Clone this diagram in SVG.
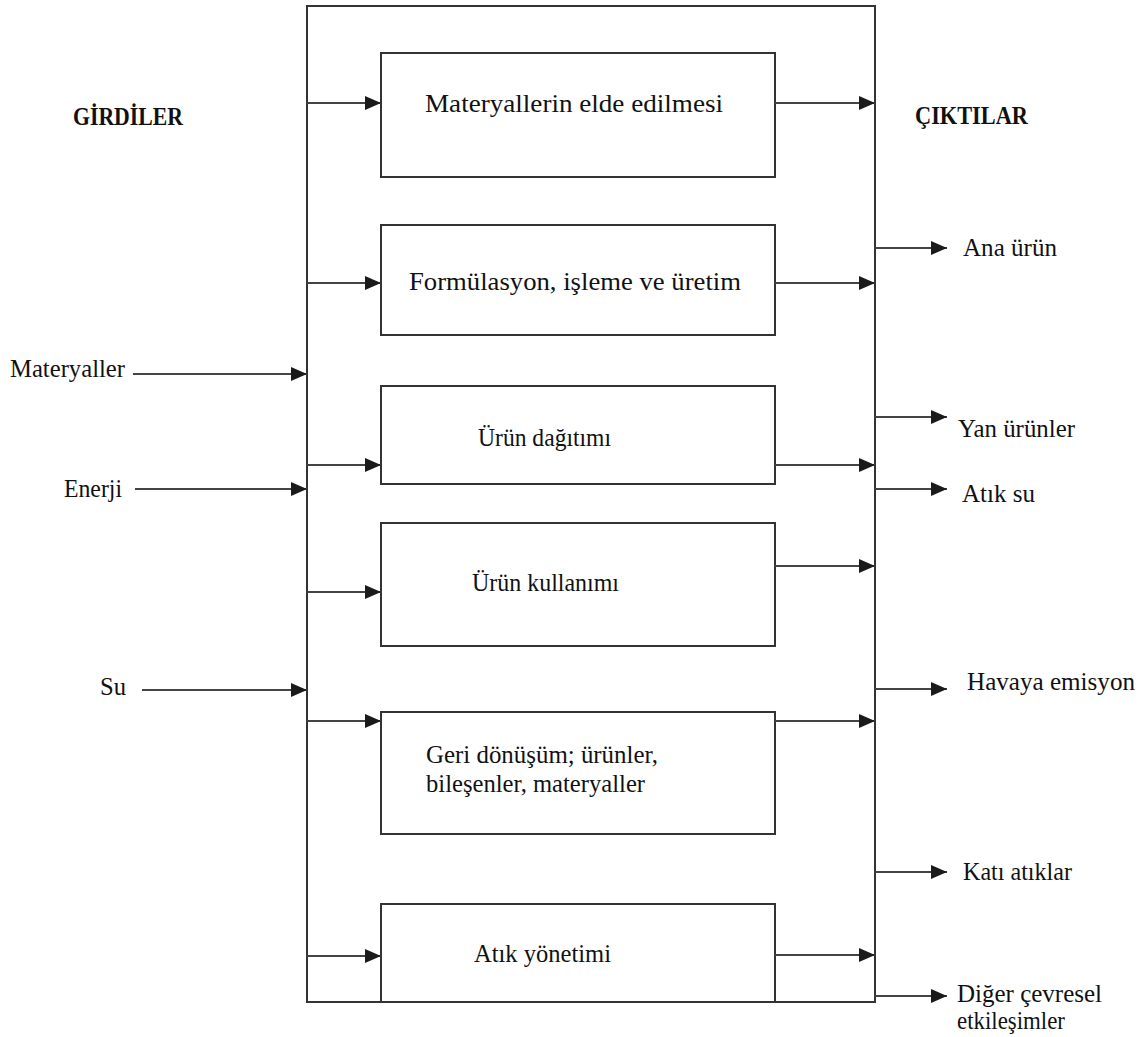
<svg xmlns="http://www.w3.org/2000/svg" width="1148" height="1037" viewBox="0 0 1148 1037">
  <defs>
    <marker id="arrow" viewBox="0 0 16 14" refX="16" refY="7" markerWidth="16" markerHeight="14" markerUnits="userSpaceOnUse" orient="auto">
      <path d="M0,0 L16,7 L0,14 z" fill="#1a1a1a"/>
    </marker>
    <style>
      .box { fill: #fff; stroke: #333; stroke-width: 2; }
      .frame { fill: none; stroke: #333; stroke-width: 2; }
      .link { stroke: #444; stroke-width: 2; fill: none; marker-end: url(#arrow); }
      text { font-family: "Liberation Serif", "Times New Roman", serif; font-size: 25px; fill: #111; }
      .head { font-weight: bold; }
    </style>
  </defs>

  <rect width="1148" height="1037" fill="#fff"/>

  <!-- life-cycle frame -->
  <rect id="frame" class="frame" x="307" y="6" width="568" height="996"/>

  <!-- column headings -->
  <text class="head" x="73" y="125" textLength="110" lengthAdjust="spacingAndGlyphs">GİRDİLER</text>
  <text class="head" x="915" y="124" textLength="113" lengthAdjust="spacingAndGlyphs">ÇIKTILAR</text>

  <!-- stages -->
  <g id="stage-materials">
    <rect class="box" x="381" y="53" width="394" height="124"/>
    <text x="425" y="112" textLength="298" lengthAdjust="spacingAndGlyphs">Materyallerin elde edilmesi</text>
  </g>
  <g id="stage-production">
    <rect class="box" x="381" y="225" width="394" height="110"/>
    <text x="409" y="290" textLength="332" lengthAdjust="spacingAndGlyphs">Formülasyon, işleme ve üretim</text>
  </g>
  <g id="stage-distribution">
    <rect class="box" x="381" y="386" width="394" height="98"/>
    <text x="478" y="446" textLength="133" lengthAdjust="spacingAndGlyphs">Ürün dağıtımı</text>
  </g>
  <g id="stage-use">
    <rect class="box" x="381" y="523" width="394" height="123"/>
    <text x="472" y="591" textLength="147" lengthAdjust="spacingAndGlyphs">Ürün kullanımı</text>
  </g>
  <g id="stage-recycling">
    <rect class="box" x="381" y="712" width="394" height="122"/>
    <text x="426" y="763" textLength="232" lengthAdjust="spacingAndGlyphs">Geri dönüşüm; ürünler,</text>
    <text x="426" y="792" textLength="219" lengthAdjust="spacingAndGlyphs">bileşenler, materyaller</text>
  </g>
  <g id="stage-waste">
    <rect class="box" x="381" y="904" width="394" height="98"/>
    <text x="474" y="962" textLength="137" lengthAdjust="spacingAndGlyphs">Atık yönetimi</text>
  </g>

  <!-- inputs -->
  <g id="input-materials"><text x="10" y="377" textLength="115" lengthAdjust="spacingAndGlyphs">Materyaller</text></g>
  <g id="input-energy"><text x="64" y="497" textLength="58" lengthAdjust="spacingAndGlyphs">Enerji</text></g>
  <g id="input-water"><text x="100" y="695" textLength="26" lengthAdjust="spacingAndGlyphs">Su</text></g>

  <!-- outputs -->
  <g id="output-main"><text x="963" y="256" textLength="94" lengthAdjust="spacingAndGlyphs">Ana ürün</text></g>
  <g id="output-byproducts"><text x="958" y="437" textLength="117" lengthAdjust="spacingAndGlyphs">Yan ürünler</text></g>
  <g id="output-wastewater"><text x="962" y="502" textLength="73" lengthAdjust="spacingAndGlyphs">Atık su</text></g>
  <g id="output-air"><text x="967" y="690" textLength="168" lengthAdjust="spacingAndGlyphs">Havaya emisyon</text></g>
  <g id="output-solid"><text x="963" y="880" textLength="109" lengthAdjust="spacingAndGlyphs">Katı atıklar</text></g>
  <g id="output-other">
    <text x="957" y="1002" textLength="145" lengthAdjust="spacingAndGlyphs">Diğer çevresel</text>
    <text x="957" y="1029" textLength="108" lengthAdjust="spacingAndGlyphs">etkileşimler</text>
  </g>

  <!-- connectors -->
  <g id="connectors">
    <!-- inputs into the frame -->
    <line class="link" x1="133" y1="374" x2="307" y2="374"/>
    <line class="link" x1="135" y1="489" x2="307" y2="489"/>
    <line class="link" x1="142" y1="690" x2="307" y2="690"/>
    <!-- frame into stages -->
    <line class="link" x1="307" y1="103" x2="381" y2="103"/>
    <line class="link" x1="307" y1="283" x2="381" y2="283"/>
    <line class="link" x1="307" y1="465" x2="381" y2="465"/>
    <line class="link" x1="307" y1="592" x2="381" y2="592"/>
    <line class="link" x1="307" y1="721" x2="381" y2="721"/>
    <line class="link" x1="307" y1="956" x2="381" y2="956"/>
    <!-- stages out to the frame -->
    <line class="link" x1="775" y1="103" x2="875" y2="103"/>
    <line class="link" x1="775" y1="283" x2="875" y2="283"/>
    <line class="link" x1="775" y1="465" x2="875" y2="465"/>
    <line class="link" x1="775" y1="566" x2="875" y2="566"/>
    <line class="link" x1="775" y1="721" x2="875" y2="721"/>
    <line class="link" x1="775" y1="955" x2="875" y2="955"/>
    <!-- outputs from the frame -->
    <line class="link" x1="875" y1="248" x2="947" y2="248"/>
    <line class="link" x1="875" y1="417" x2="947" y2="417"/>
    <line class="link" x1="875" y1="489" x2="947" y2="489"/>
    <line class="link" x1="875" y1="689" x2="947" y2="689"/>
    <line class="link" x1="875" y1="872" x2="947" y2="872"/>
    <line class="link" x1="875" y1="996" x2="947" y2="996"/>
  </g>
</svg>
